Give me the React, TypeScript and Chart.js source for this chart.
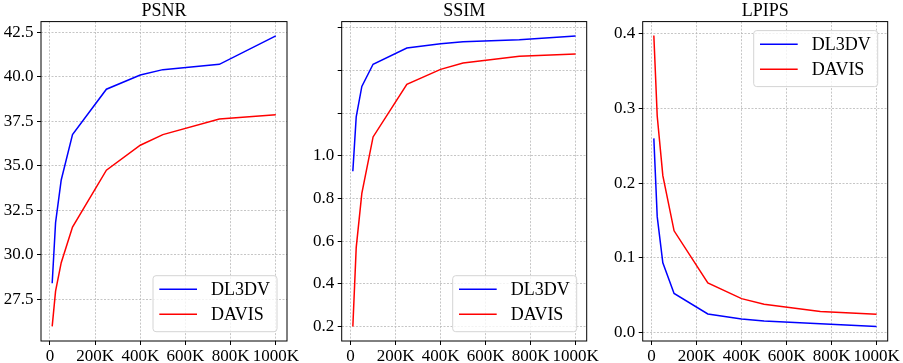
import React, { useEffect, useRef } from 'react';
import { Chart, registerables } from 'chart.js';

Chart.register(...registerables);

// ---- data ----
const trainSteps = [10000, 25000, 50000, 100000, 250000, 400000, 500000, 750000, 1000000];
const seriesNames = ['DL3DV', 'DAVIS'];
const seriesColors = ['#0000ff', '#ff0000'];

const psnrDL3DV = [28.4, 31.8, 34.2, 36.75, 39.3, 40.1, 40.4, 40.7, 42.3];
const psnrDAVIS = [25.97, 27.95, 29.55, 31.55, 34.75, 36.15, 36.75, 37.63, 37.87];

const ssimDL3DV = [0.928, 1.183, 1.326, 1.43, 1.506, 1.526, 1.535, 1.545, 1.562];
const ssimDAVIS = [0.2, 0.57, 0.824, 1.089, 1.336, 1.406, 1.436, 1.467, 1.478];

const lpipsDL3DV = [0.26, 0.155, 0.093, 0.052, 0.0245, 0.0178, 0.015, 0.0112, 0.0075];
const lpipsDAVIS = [0.398, 0.29, 0.21, 0.136, 0.066, 0.045, 0.0375, 0.0278, 0.024];

// ---- tick values ----
const xTicks = [0, 200000, 400000, 600000, 800000, 1000000];
const psnrTicks = [27.5, 30.0, 32.5, 35.0, 37.5, 40.0, 42.5];
const ssimTicks = [0.2, 0.4, 0.6, 0.8, 1.0, 1.2, 1.4, 1.6];
const ssimLabelledMax = 1.0;
const lpipsTicks = [0.0, 0.1, 0.2, 0.3, 0.4];

const FONT = '"Liberation Serif", "Times New Roman", serif';

const framePlugin = {
  id: 'frame',
  afterDatasetsDraw(chart: any) {
    const { ctx, chartArea: ca } = chart;
    ctx.save();
    ctx.strokeStyle = '#000';
    ctx.lineWidth = 1;
    ctx.strokeRect(ca.left, ca.top, ca.right - ca.left, ca.bottom - ca.top);
    ctx.restore();
  },
};

const boxLegendPlugin = {
  id: 'boxLegend',
  afterDraw(chart: any, _args: any, opts: any) {
    const { ctx, chartArea: ca } = chart;
    const w = 124;
    const h = 56;
    const x = ca.right - 10 - w;
    const y = opts.corner === 'upper' ? ca.top + 9 : ca.bottom - 9.3 - h;
    ctx.save();
    ctx.beginPath();
    if (ctx.roundRect) ctx.roundRect(x, y, w, h, 3);
    else ctx.rect(x, y, w, h);
    ctx.fillStyle = 'rgba(255,255,255,0.8)';
    ctx.fill();
    ctx.strokeStyle = '#d4d4d4';
    ctx.lineWidth = 1;
    ctx.stroke();
    chart.data.datasets.forEach((ds: any, i: number) => {
      const ry = y + 13.6 + i * 25;
      ctx.strokeStyle = ds.borderColor;
      ctx.lineWidth = 1.5;
      ctx.beginPath();
      ctx.moveTo(x + 6.3, ry);
      ctx.lineTo(x + 44, ry);
      ctx.stroke();
      ctx.fillStyle = '#000';
      ctx.font = `18px ${FONT}`;
      ctx.textBaseline = 'middle';
      ctx.textAlign = 'left';
      ctx.fillText(ds.label, x + 58, ry + 1);
    });
    ctx.restore();
  },
};

type PanelProps = {
  title: string;
  a: number[];
  b: number[];
  yMin: number;
  yMax: number;
  yTicks: number[];
  yLabel: (v: number) => string;
  padLeft: number;
  padRight: number;
  yWidth: number;
  corner: 'upper' | 'lower';
};

function Panel(p: PanelProps) {
  const ref = useRef<HTMLCanvasElement | null>(null);
  useEffect(() => {
    if (!ref.current) return;
    const gridCommon = {
      color: '#b8b8b8',
      lineWidth: 0.8,
      tickLength: 4,
      tickColor: '#000',
      tickWidth: 1,
      tickBorderDash: [],
    };
    const chart = new Chart(ref.current, {
      type: 'line',
      data: {
        datasets: [p.a, p.b].map((arr, i) => ({
          label: seriesNames[i],
          data: trainSteps.map((s, j) => ({ x: s, y: arr[j] })),
          borderColor: seriesColors[i],
          backgroundColor: seriesColors[i],
          borderWidth: 1.5,
          pointRadius: 0,
          fill: false,
          tension: 0,
        })),
      },
      options: {
        responsive: false,
        animation: false,
        layout: { padding: { left: p.padLeft, right: p.padRight, top: 0, bottom: 0 } },
        scales: {
          x: {
            type: 'linear',
            min: -39500,
            max: 1049500,
            afterBuildTicks: (s: any) => {
              s.ticks = xTicks.map((v) => ({ value: v }));
            },
            afterFit: (s: any) => {
              s.height = 22;
            },
            ticks: {
              autoSkip: false,
              maxRotation: 0,
              padding: 1,
              color: '#000',
              font: { family: FONT, size: 17 },
              callback: (v: any) => (Number(v) === 0 ? '0' : `${Math.round(Number(v) / 1000)}K`),
            },
            grid: gridCommon,
            border: { display: false, dash: [2, 1.5] },
          },
          y: {
            type: 'linear',
            min: p.yMin,
            max: p.yMax,
            afterBuildTicks: (s: any) => {
              s.ticks = p.yTicks.map((v) => ({ value: v }));
            },
            afterFit: (s: any) => {
              s.width = p.yWidth;
            },
            ticks: {
              autoSkip: false,
              padding: 3.5,
              color: '#000',
              font: { family: FONT, size: 17 },
              callback: (v: any) => p.yLabel(Number(v)),
            },
            grid: gridCommon,
            border: { display: false, dash: [2, 1.5] },
          },
        },
        plugins: {
          legend: { display: false },
          tooltip: { enabled: false },
          title: {
            display: true,
            text: p.title,
            fullSize: false,
            color: '#000',
            font: { family: FONT, size: 18, weight: 'normal', lineHeight: 1.2 },
            padding: { top: 0, bottom: 0 },
          },
          boxLegend: { corner: p.corner },
        } as any,
      },
      plugins: [framePlugin, boxLegendPlugin],
    } as any);
    return () => chart.destroy();
  }, []);
  return (
    <canvas
      ref={ref}
      width={903}
      height={363}
      style={{ position: 'absolute', left: 0, top: 0, width: 903, height: 363 }}
    />
  );
}

export default function App() {
  return (
    <div style={{ position: 'fixed', left: 0, top: 0, width: 903, height: 363, background: '#fff' }}>
      <Panel
        title="PSNR"
        a={psnrDL3DV}
        b={psnrDAVIS}
        yMin={25.15}
        yMax={43.1}
        yTicks={psnrTicks}
        yLabel={(v) => v.toFixed(1)}
        padLeft={0}
        padRight={616}
        yWidth={41}
        corner="lower"
      />
      <Panel
        title="SSIM"
        a={ssimDL3DV}
        b={ssimDAVIS}
        yMin={0.132}
        yMax={1.63}
        yTicks={ssimTicks}
        yLabel={(v) => (v <= ssimLabelledMax + 1e-6 ? v.toFixed(1) : '')}
        padLeft={300}
        padRight={316.3}
        yWidth={41.7}
        corner="lower"
      />
      <Panel
        title="LPIPS"
        a={lpipsDL3DV}
        b={lpipsDAVIS}
        yMin={-0.0118}
        yMax={0.4166}
        yTicks={lpipsTicks}
        yLabel={(v) => v.toFixed(1)}
        padLeft={600}
        padRight={15.3}
        yWidth={42.7}
        corner="upper"
      />
    </div>
  );
}
